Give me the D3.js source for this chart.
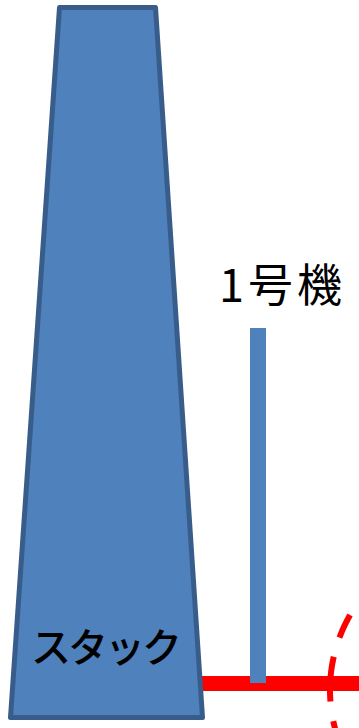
<!DOCTYPE html>
<html>
<head>
<meta charset="utf-8">
<script src="https://cdn.jsdelivr.net/npm/d3@7"></script>
<style>
  html, body { margin: 0; padding: 0; background: #fff; }
  svg { display: block; }
</style>
</head>
<body>
<svg id="chart"></svg>
<script>
// diagram data (in picture units, 359 x 728 canvas)
const stackOutline = [[59.5, 7.5], [155.5, 7.5], [202.5, 717.5], [10.5, 717.5]];
const unitBar = { x0: 250, x1: 266, top: 328, bottom: 683 };
const pipeLine = [[199, 683.5], [359, 683.5]];
const arcCircle = { cx: 480, cy: 690, r: 150, from: -22, to: 30 };  // degrees above "west"
const labels = [
    { text: 'スタック', x: 31, y: 662, size: 40, spacing: -3, weight: 500 },
    { text: '1号機', x: 219, y: 302, size: 45, spacing: 4, weight: 400 }
];

(function () {
    const width = 359;
    const height = 728;

    const svg = d3.select('#chart')
        .attr('width', width)
        .attr('height', height);

    const x = d3.scaleLinear().domain([0, 359]).range([0, width]);
    const y = d3.scaleLinear().domain([0, 728]).range([0, height]);

    const line = d3.line().x(d => x(d[0])).y(d => y(d[1]));

    // red pipe
    svg.append('path')
        .attr('d', line(pipeLine))
        .attr('stroke', '#ff0000')
        .attr('stroke-width', 15)
        .attr('fill', 'none');

    // dashed red arc, drawn from its top end downwards
    const arcPts = d3.range(arcCircle.to, arcCircle.from - 0.5, -0.5).map(a => {
        const t = a * Math.PI / 180;
        return [arcCircle.cx - arcCircle.r * Math.cos(t), arcCircle.cy - arcCircle.r * Math.sin(t)];
    });
    svg.append('path')
        .attr('d', line(arcPts))
        .attr('stroke', '#ff0000')
        .attr('stroke-width', 6)
        .attr('stroke-dasharray', '45,20')
        .attr('stroke-dashoffset', 20)
        .attr('fill', 'none');

    // stack
    svg.append('path')
        .attr('d', line(stackOutline) + 'Z')
        .attr('fill', '#4f81bd')
        .attr('stroke', '#385d8a')
        .attr('stroke-width', 5)
        .attr('stroke-linejoin', 'round');

    // unit 1 bar
    svg.append('rect')
        .attr('x', x(unitBar.x0))
        .attr('y', y(unitBar.top))
        .attr('width', x(unitBar.x1) - x(unitBar.x0))
        .attr('height', y(unitBar.bottom) - y(unitBar.top))
        .attr('fill', '#4f81bd');

    svg.selectAll('text.label')
        .data(labels)
        .enter()
        .append('text')
        .attr('class', 'label')
        .attr('x', d => x(d.x))
        .attr('y', d => y(d.y))
        .attr('font-family', '"Noto Sans CJK JP", "Noto Sans", sans-serif')
        .attr('font-size', d => d.size)
        .attr('font-weight', d => d.weight)
        .attr('letter-spacing', d => d.spacing)
        .attr('fill', '#000')
        .text(d => d.text);
})();
</script>
</body>
</html>
